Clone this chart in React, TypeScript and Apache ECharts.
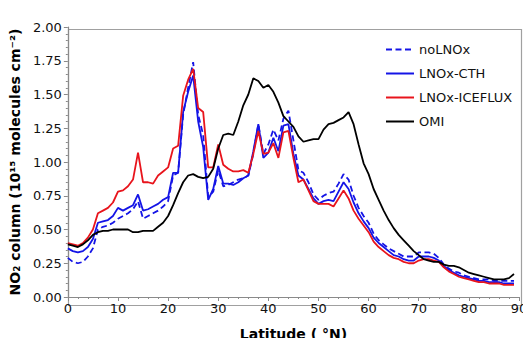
import React, { useEffect, useRef } from "react";
import * as echarts from "echarts";

const latitudes: number[] = Array.from({ length: 90 }, (_, i) => i);

const noLNOx: number[] = [
  0.29, 0.26, 0.25, 0.26, 0.30, 0.36, 0.50, 0.52, 0.53, 0.55,
  0.58, 0.60, 0.62, 0.65, 0.71, 0.58, 0.60, 0.62, 0.64, 0.67,
  0.71, 0.90, 0.92, 1.35, 1.55, 1.74, 1.35, 1.20, 0.74, 0.78,
  0.94, 0.82, 0.83, 0.85, 0.87, 0.88, 0.90, 1.06, 1.28, 1.06,
  1.13, 1.24, 1.16, 1.32, 1.38, 1.16, 0.94, 0.92, 0.85, 0.76,
  0.72, 0.75, 0.77, 0.78, 0.84, 0.91, 0.87, 0.75, 0.66, 0.60,
  0.55, 0.47, 0.42, 0.39, 0.36, 0.34, 0.32, 0.30, 0.30, 0.30,
  0.33, 0.33, 0.33, 0.32, 0.29, 0.24, 0.21, 0.19, 0.18, 0.16,
  0.15, 0.14, 0.13, 0.13, 0.13, 0.12, 0.12, 0.12, 0.12, 0.12,
];

const lnoxCTH: number[] = [
  0.36, 0.34, 0.33, 0.34, 0.37, 0.43, 0.55, 0.56, 0.57, 0.60,
  0.66, 0.64, 0.66, 0.68, 0.76, 0.64, 0.65, 0.67, 0.69, 0.72,
  0.74, 0.92, 0.92, 1.37, 1.52, 1.64, 1.30, 1.11, 0.72, 0.80,
  0.97, 0.84, 0.84, 0.83, 0.85, 0.88, 0.90, 1.08, 1.28, 1.03,
  1.07, 1.18, 1.08, 1.27, 1.28, 1.06, 0.90, 0.87, 0.80, 0.73,
  0.69, 0.71, 0.72, 0.71, 0.78, 0.85, 0.80, 0.70, 0.62, 0.56,
  0.51, 0.44, 0.40, 0.37, 0.34, 0.31, 0.30, 0.28, 0.27, 0.27,
  0.30, 0.30, 0.30, 0.29, 0.27, 0.23, 0.20, 0.18, 0.16, 0.15,
  0.14, 0.13, 0.12, 0.12, 0.11, 0.11, 0.11, 0.10, 0.10, 0.10,
];

const lnoxICEFLUX: number[] = [
  0.40, 0.39, 0.38, 0.40, 0.44, 0.50, 0.62, 0.64, 0.66, 0.70,
  0.78, 0.79, 0.82, 0.87, 1.07, 0.85, 0.85, 0.84, 0.90, 0.93,
  0.96, 1.10, 1.12, 1.49, 1.61, 1.69, 1.40, 1.37, 0.96, 0.96,
  1.13, 0.98, 0.95, 0.93, 0.93, 0.94, 0.92, 1.06, 1.23, 1.06,
  1.07, 1.14, 1.03, 1.22, 1.23, 1.03, 0.85, 0.87, 0.79, 0.71,
  0.69, 0.69, 0.69, 0.67, 0.73, 0.79, 0.73, 0.64, 0.58, 0.53,
  0.48, 0.41, 0.37, 0.34, 0.31, 0.29, 0.28, 0.26, 0.25, 0.25,
  0.27, 0.28, 0.28, 0.27, 0.26, 0.22, 0.19, 0.17, 0.15, 0.14,
  0.13, 0.12, 0.11, 0.11, 0.10, 0.10, 0.10, 0.09, 0.09, 0.09,
];

const omi: number[] = [
  0.39, 0.38, 0.37, 0.39, 0.42, 0.46, 0.48, 0.49, 0.49, 0.50,
  0.50, 0.50, 0.50, 0.48, 0.48, 0.49, 0.49, 0.49, 0.52, 0.55,
  0.60, 0.68, 0.77, 0.85, 0.90, 0.91, 0.89, 0.88, 0.89, 0.95,
  1.10, 1.20, 1.21, 1.20, 1.30, 1.42, 1.50, 1.62, 1.60, 1.55,
  1.57, 1.52, 1.44, 1.34, 1.30, 1.26, 1.19, 1.15, 1.16, 1.17,
  1.17, 1.24, 1.28, 1.29, 1.31, 1.33, 1.37, 1.28, 1.13, 0.99,
  0.91, 0.80, 0.72, 0.64, 0.57, 0.51, 0.46, 0.42, 0.38, 0.34,
  0.31, 0.28, 0.27, 0.26, 0.26, 0.24, 0.23, 0.23, 0.22, 0.20,
  0.18, 0.17, 0.16, 0.15, 0.14, 0.13, 0.13, 0.13, 0.14, 0.17,
];

const seriesNames = ["noLNOx", "LNOx-CTH", "LNOx-ICEFLUX", "OMI"];
const seriesColors = ["#1414e6", "#1414e6", "#e8141c", "#000000"];

const pairs = (ys: number[]) => latitudes.map((x, i) => [x, ys[i]]);

export default function App() {
  const ref = useRef<HTMLDivElement>(null);
  useEffect(() => {
    if (!ref.current) return;
    const chart = echarts.init(ref.current, undefined, { renderer: "svg" });
    const axisGray = "#8a8a8a";
    const font = "DejaVu Sans";
    const allData = [noLNOx, lnoxCTH, lnoxICEFLUX, omi];
    chart.setOption({
      animation: false,
      backgroundColor: "#ffffff",
      grid: { left: 66, right: 12, top: 27, bottom: 44, containLabel: false },
      legend: {
        orient: "vertical",
        left: 380,
        top: 38,
        itemWidth: 28,
        itemHeight: 12,
        itemGap: 11,
        itemStyle: { opacity: 0 },
        textStyle: { fontFamily: font, fontSize: 13, color: "#111" },
        data: seriesNames,
      },
      xAxis: {
        type: "value",
        min: 0,
        max: 90,
        interval: 10,
        name: "Latitude ( °N)",
        nameLocation: "middle",
        nameGap: 30,
        nameTextStyle: { fontFamily: font, fontSize: 14, fontWeight: "bold", color: "#000" },
        axisLine: { show: true, lineStyle: { color: axisGray, width: 1.2 } },
        axisTick: { show: true, inside: false, length: 4, lineStyle: { color: axisGray } },
        minorTick: { show: true, splitNumber: 5, length: 2, lineStyle: { color: axisGray } },
        axisLabel: { fontFamily: font, fontSize: 13, color: "#111", margin: 5 },
        splitLine: { show: false },
      },
      yAxis: {
        type: "value",
        min: 0,
        max: 2,
        interval: 0.25,
        name: "NO\u2082 column (10\u00b9\u2075 molecules cm\u207b\u00b2)",
        nameLocation: "middle",
        nameRotate: 90,
        nameGap: 42,
        nameTextStyle: { fontFamily: font, fontSize: 14, fontWeight: "bold", color: "#000" },
        axisLine: { show: true, lineStyle: { color: axisGray, width: 1.2 } },
        axisTick: { show: true, inside: false, length: 4, lineStyle: { color: axisGray } },
        minorTick: { show: true, splitNumber: 5, length: 2, lineStyle: { color: axisGray } },
        axisLabel: {
          fontFamily: font,
          fontSize: 13,
          color: "#111",
          margin: 6,
          formatter: (v: number) => v.toFixed(2),
        },
        splitLine: { show: false },
      },
      graphic: [
        {
          type: "rect",
          left: 66,
          top: 27,
          shape: { x: 0, y: 0, width: 453, height: 276 },
          style: { fill: "none", stroke: "#a0a0a0", lineWidth: 1.2 },
          silent: true,
          z: -1,
        },
      ],
      series: seriesNames.map((name, k) => ({
        name,
        type: "line",
        data: pairs(allData[k]),
        showSymbol: false,
        symbol: "none",
        color: seriesColors[k],
        lineStyle: {
          color: seriesColors[k],
          width: 1.8,
          type: k === 0 ? [6, 3.5] : "solid",
        },
        z: 2 + k,
      })),
    });
    return () => chart.dispose();
  }, []);
  return <div ref={ref} style={{ width: 531, height: 346, margin: -8 }} />;
}
